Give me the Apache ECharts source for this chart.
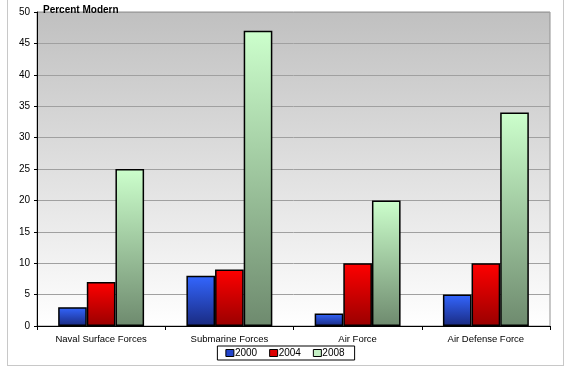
<!DOCTYPE html>
<html><head><meta charset="utf-8">
<script src="https://cdn.jsdelivr.net/npm/echarts@6/dist/echarts.min.js"></script>
<style>html,body{margin:0;padding:0;background:#fff}#c{width:570px;height:368px}
#frame{position:absolute;left:7px;top:-2px;width:555px;height:366px;border:1px solid #c8c8c8;pointer-events:none}</style>
</head><body><div id="c"></div><div id="frame"></div>
<script>
const categories = ['Naval Surface Forces', 'Submarine Forces', 'Air Force', 'Air Defense Force'];
const s2000 = [3, 8, 2, 5];
const s2004 = [7, 9, 10, 10];
const s2008 = [25, 47, 20, 34];
const yTicks = [0, 5, 10, 15, 20, 25, 30, 35, 40, 45, 50];

function grad(top, bottom) {
  return new echarts.graphic.LinearGradient(0, 0, 0, 1, [{offset: 0, color: top}, {offset: 1, color: bottom}]);
}
const chart = echarts.init(document.getElementById('c'), null, {renderer: 'canvas'});
const font = 'Arial, "Liberation Sans", sans-serif';
chart.setOption({
  animation: false,
  textStyle: {fontFamily: font},
  title: {text: 'Percent Modern', left: 38, top: 0, textStyle: {fontSize: 10, fontWeight: 'bold', color: '#000', fontFamily: font}},
  grid: {left: 37, right: 20, top: 12, bottom: 42, show: true, borderColor: '#909090', borderWidth: 1,
    backgroundColor: grad('#c0c0c0', '#ffffff')},
  legend: {bottom: 8, left: 'center', icon: 'rect', itemWidth: 8, itemHeight: 7, itemGap: 12, padding: [2, 10, 2, 8],
    borderColor: '#000', borderWidth: 1, backgroundColor: '#fff',
    textStyle: {fontSize: 10, color: '#000', padding: [0, 0, 0, -4]},
    data: [
      {name: '2000', itemStyle: {color: '#2244cc', borderColor: '#000', borderWidth: 1}},
      {name: '2004', itemStyle: {color: '#dd0000', borderColor: '#000', borderWidth: 1}},
      {name: '2008', itemStyle: {color: '#c4f0c4', borderColor: '#000', borderWidth: 1}}
    ]},
  xAxis: {type: 'category', data: categories,
    axisLine: {lineStyle: {color: '#000', width: 1}},
    axisTick: {show: true, length: 4, lineStyle: {color: '#000'}},
    axisLabel: {fontSize: 9.5, color: '#000', margin: 8}},
  yAxis: {type: 'value', min: yTicks[0], max: yTicks[yTicks.length - 1], interval: 5,
    axisLine: {show: true, lineStyle: {color: '#000'}},
    axisTick: {show: true, length: 3, lineStyle: {color: '#000'}},
    axisLabel: {fontSize: 10, color: '#000', margin: 7},
    splitLine: {lineStyle: {color: '#a0a0a0', width: 1}}},
  series: [
    {name: '2000', type: 'bar', data: s2000, barGap: '0%', barCategoryGap: '33%',
      itemStyle: {color: grad('#3366ff', '#1a2a80'), borderColor: '#000', borderWidth: 1.5}},
    {name: '2004', type: 'bar', data: s2004, barGap: '0%', barCategoryGap: '33%',
      itemStyle: {color: grad('#ff0000', '#990000'), borderColor: '#000', borderWidth: 1.5}},
    {name: '2008', type: 'bar', data: s2008, barGap: '0%', barCategoryGap: '33%',
      itemStyle: {color: grad('#ccffcc', '#6e8a6e'), borderColor: '#000', borderWidth: 1.5}}
  ]
});
</script></body></html>
